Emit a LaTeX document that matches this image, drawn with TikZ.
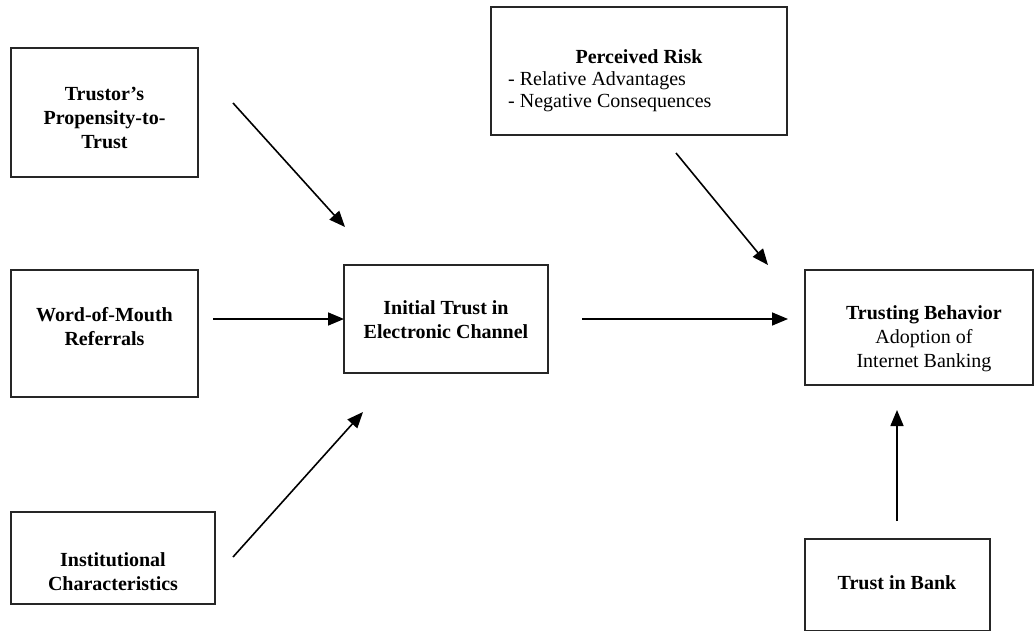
\documentclass[tikz,border=0pt]{standalone}
\usepackage{fontspec}
\setmainfont{Liberation Serif}
\usetikzlibrary{arrows.meta}
\begin{document}
\begin{tikzpicture}[x=1pt,y=-1pt,
  box/.style={draw=black!85, line width=1.4pt, rectangle, inner sep=0pt},
  txt/.style={align=center, inner sep=0pt, font=\fontsize{20pt}{24pt}\selectfont},
  link/.style={line width=1.6pt, -{Triangle[length=16pt,width=13pt]}}]
\useasboundingbox (0,0) rectangle (1036,631);

% boxes
\node[box, minimum width=187pt, minimum height=129pt] (trustor) at (104.5,112.5) {};
\node[box, minimum width=187pt, minimum height=127pt] (wom) at (104.5,333.5) {};
\node[box, minimum width=204pt, minimum height=92pt] (inst) at (113,558) {};
\node[box, minimum width=204pt, minimum height=108pt] (initial) at (446,319) {};
\node[box, minimum width=296pt, minimum height=128pt] (risk) at (639,71) {};
\node[box, minimum width=228pt, minimum height=115pt] (behavior) at (919,327.5) {};
\node[box, minimum width=185pt, minimum height=92pt] (bank) at (897.5,585) {};

% texts
\node[txt] (trustorT) at (104.5,118) {\textbf{Trustor’s}\\\textbf{Propensity-to-}\\\textbf{Trust}};
\node[txt] (womT) at (104.5,327) {\textbf{Word-of-Mouth}\\\textbf{Referrals}};
\node[txt] (instT) at (113,572) {\textbf{Institutional}\\\textbf{Characteristics}};
\node[txt] (initialT) at (446,320) {\textbf{Initial Trust in}\\\textbf{Electronic Channel}};
\node[txt] (riskT) at (639,57) {\textbf{Perceived Risk}};
\node[txt, align=left, anchor=west, font=\fontsize{20pt}{22pt}\selectfont] (riskL) at (508,92) {- Relative Advantages\\- Negative Consequences};
\node[txt] (behaviorT) at (924,339) {\textbf{Trusting Behavior}\\Adoption of\\Internet Banking};
\node[txt] (bankT) at (897,583) {\textbf{Trust in Bank}};

% arrow end points
\coordinate (a1s) at (233,103);  \coordinate (a1e) at (345,227);
\coordinate (a2s) at (213,319);  \coordinate (a2e) at (344,319);
\coordinate (a3s) at (233,557);  \coordinate (a3e) at (363,412);
\coordinate (a4s) at (582,319);  \coordinate (a4e) at (788,319);
\coordinate (a5s) at (676,153);  \coordinate (a5e) at (768,265);
\coordinate (a6s) at (897,521);  \coordinate (a6e) at (897,410);

% connectors
\draw[link] (a1s) -- (a1e);
\draw[link] (a2s) -- (a2e);
\draw[link] (a3s) -- (a3e);
\draw[link] (a4s) -- (a4e);
\draw[link] (a5s) -- (a5e);
\draw[link] (a6s) -- (a6e);
\end{tikzpicture}
\end{document}
